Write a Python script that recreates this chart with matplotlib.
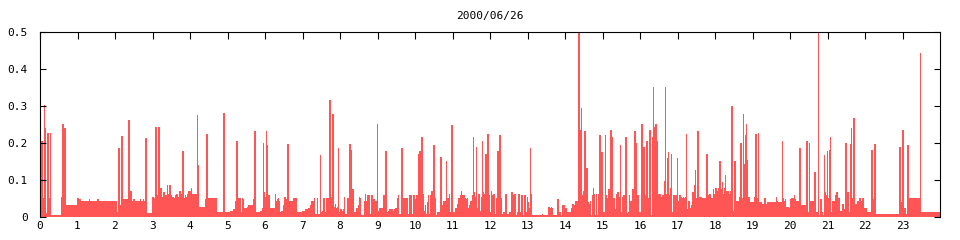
import matplotlib
matplotlib.use("Agg")
import matplotlib.pyplot as plt

title = "2000/06/26"

# start hour of each step and the value held until the next start
hours = [
    0.0, 0.053, 0.08, 0.107, 0.133, 0.16, 0.213, 0.24, 0.267, 0.293,
    0.56, 0.613, 0.64, 0.667, 0.693, 1.013, 1.04, 1.067, 1.307, 1.333,
    1.52, 1.547, 2.027, 2.08, 2.107, 2.133, 2.16, 2.187, 2.213, 2.347,
    2.373, 2.4, 2.427, 2.48, 2.507, 2.667, 2.693, 2.747, 2.773, 2.8,
    2.827, 3.013, 3.04, 3.093, 3.12, 3.147, 3.173, 3.2, 3.227, 3.28,
    3.307, 3.333, 3.36, 3.387, 3.413, 3.44, 3.467, 3.493, 3.52, 3.573,
    3.6, 3.627, 3.68, 3.707, 3.733, 3.76, 3.787, 3.813, 3.84, 3.867,
    3.893, 3.92, 3.947, 3.973, 4.0, 4.027, 4.053, 4.187, 4.213, 4.24,
    4.4, 4.427, 4.453, 4.48, 4.693, 4.72, 4.88, 4.907, 4.933, 5.013,
    5.067, 5.173, 5.2, 5.227, 5.253, 5.28, 5.307, 5.333, 5.36, 5.387,
    5.413, 5.44, 5.52, 5.573, 5.627, 5.68, 5.707, 5.733, 5.76, 5.893,
    5.92, 5.947, 5.973, 6.0, 6.027, 6.053, 6.08, 6.107, 6.267, 6.293,
    6.32, 6.347, 6.373, 6.4, 6.453, 6.48, 6.507, 6.533, 6.56, 6.587,
    6.613, 6.64, 6.667, 6.693, 6.72, 6.773, 6.827, 6.853, 6.96, 6.987,
    7.093, 7.147, 7.173, 7.2, 7.227, 7.253, 7.28, 7.307, 7.333, 7.387,
    7.413, 7.467, 7.493, 7.52, 7.547, 7.573, 7.6, 7.627, 7.653, 7.707,
    7.733, 7.76, 7.787, 7.813, 7.84, 7.867, 7.893, 7.92, 7.947, 7.973,
    8.0, 8.027, 8.08, 8.107, 8.133, 8.213, 8.24, 8.267, 8.293, 8.32,
    8.347, 8.373, 8.427, 8.453, 8.48, 8.507, 8.533, 8.56, 8.587, 8.64,
    8.667, 8.693, 8.72, 8.747, 8.773, 8.8, 8.827, 8.853, 8.88, 8.907,
    8.987, 9.013, 9.04, 9.147, 9.173, 9.2, 9.227, 9.253, 9.28, 9.307,
    9.333, 9.413, 9.44, 9.467, 9.493, 9.52, 9.547, 9.573, 9.653, 9.68,
    9.76, 9.787, 9.813, 9.84, 9.867, 9.893, 9.92, 9.947, 10.0, 10.027,
    10.053, 10.08, 10.107, 10.133, 10.16, 10.187, 10.213, 10.24, 10.267, 10.293,
    10.32, 10.347, 10.373, 10.4, 10.427, 10.453, 10.48, 10.507, 10.533, 10.56,
    10.587, 10.613, 10.667, 10.693, 10.72, 10.747, 10.773, 10.827, 10.853, 10.907,
    10.933, 10.96, 10.987, 11.013, 11.093, 11.12, 11.147, 11.173, 11.2, 11.227,
    11.253, 11.307, 11.333, 11.36, 11.387, 11.413, 11.44, 11.467, 11.493, 11.52,
    11.547, 11.573, 11.6, 11.627, 11.653, 11.68, 11.707, 11.733, 11.76, 11.787,
    11.813, 11.84, 11.893, 11.92, 11.947, 11.973, 12.0, 12.027, 12.053, 12.08,
    12.133, 12.16, 12.187, 12.213, 12.24, 12.267, 12.293, 12.32, 12.347, 12.4,
    12.427, 12.507, 12.56, 12.587, 12.613, 12.64, 12.667, 12.72, 12.773, 12.8,
    12.827, 12.853, 12.88, 12.907, 12.933, 12.96, 12.987, 13.013, 13.04, 13.067,
    13.093, 13.12, 13.387, 13.413, 13.547, 13.573, 13.6, 13.627, 13.653, 13.68,
    13.813, 13.84, 13.867, 13.92, 13.947, 13.973, 14.0, 14.027, 14.16, 14.187,
    14.213, 14.24, 14.267, 14.293, 14.347, 14.373, 14.4, 14.427, 14.453, 14.48,
    14.507, 14.533, 14.56, 14.587, 14.613, 14.64, 14.667, 14.693, 14.72, 14.747,
    14.773, 14.8, 14.827, 14.853, 14.88, 14.907, 14.933, 14.96, 14.987, 15.013,
    15.067, 15.093, 15.12, 15.147, 15.173, 15.2, 15.227, 15.253, 15.28, 15.333,
    15.36, 15.387, 15.413, 15.44, 15.467, 15.493, 15.52, 15.547, 15.573, 15.6,
    15.627, 15.653, 15.68, 15.707, 15.733, 15.76, 15.787, 15.84, 15.867, 15.893,
    15.92, 15.947, 16.0, 16.027, 16.053, 16.08, 16.107, 16.133, 16.16, 16.187,
    16.213, 16.24, 16.267, 16.293, 16.32, 16.347, 16.373, 16.4, 16.427, 16.453,
    16.48, 16.507, 16.533, 16.56, 16.587, 16.613, 16.64, 16.667, 16.693, 16.72,
    16.747, 16.773, 16.8, 16.827, 16.853, 16.88, 16.907, 16.933, 16.987, 17.013,
    17.04, 17.067, 17.093, 17.12, 17.147, 17.173, 17.2, 17.227, 17.253, 17.28,
    17.307, 17.333, 17.36, 17.387, 17.413, 17.44, 17.467, 17.493, 17.52, 17.573,
    17.653, 17.68, 17.707, 17.76, 17.787, 17.813, 17.84, 17.893, 17.92, 17.947,
    17.973, 18.0, 18.027, 18.053, 18.08, 18.107, 18.133, 18.16, 18.187, 18.213,
    18.24, 18.267, 18.293, 18.32, 18.347, 18.373, 18.4, 18.427, 18.453, 18.48,
    18.507, 18.533, 18.56, 18.613, 18.64, 18.667, 18.693, 18.72, 18.747, 18.773,
    18.8, 18.827, 18.853, 18.88, 18.907, 19.04, 19.067, 19.093, 19.12, 19.147,
    19.173, 19.253, 19.333, 19.36, 19.413, 19.627, 19.653, 19.68, 19.787, 19.813,
    19.84, 19.867, 19.893, 19.973, 20.0, 20.027, 20.053, 20.08, 20.107, 20.133,
    20.16, 20.24, 20.267, 20.427, 20.453, 20.48, 20.507, 20.533, 20.64, 20.667,
    20.693, 20.747, 20.773, 20.8, 20.827, 20.853, 20.88, 20.907, 20.933, 20.96,
    20.987, 21.013, 21.04, 21.067, 21.093, 21.12, 21.147, 21.173, 21.2, 21.227,
    21.253, 21.28, 21.307, 21.333, 21.387, 21.413, 21.44, 21.493, 21.52, 21.547,
    21.573, 21.6, 21.627, 21.653, 21.68, 21.707, 21.813, 21.84, 21.867, 21.92,
    21.947, 22.027, 22.16, 22.187, 22.213, 22.24, 22.267, 22.293, 22.933, 22.96,
    22.987, 23.013, 23.04, 23.067, 23.12, 23.147, 23.44, 23.467, 23.493,
]

load = [
    0.0135, 0.205, 0.05, 0.302, 0.24, 0.009, 0.226, 0.05, 0.226, 0.005,
    0.054, 0.251, 0.238, 0.232, 0.030, 0.051, 0.046, 0.043, 0.046, 0.043,
    0.046, 0.043, 0.0135, 0.184, 0.032, 0.030, 0.217, 0.043, 0.046, 0.051,
    0.26, 0.068, 0.043, 0.046, 0.043, 0.046, 0.043, 0.046, 0.043, 0.211,
    0.009, 0.054, 0.049, 0.243, 0.057, 0.049, 0.243, 0.076, 0.054, 0.065,
    0.054, 0.059, 0.057, 0.084, 0.062, 0.084, 0.051, 0.057, 0.054, 0.051,
    0.057, 0.062, 0.054, 0.059, 0.070, 0.062, 0.051, 0.178, 0.051, 0.059,
    0.054, 0.062, 0.054, 0.070, 0.068, 0.076, 0.062, 0.273, 0.138, 0.027,
    0.046, 0.027, 0.222, 0.049, 0.051, 0.011, 0.281, 0.041, 0.011, 0.0135,
    0.016, 0.019, 0.043, 0.022, 0.205, 0.049, 0.046, 0.051, 0.0135, 0.049,
    0.046, 0.022, 0.027, 0.030, 0.032, 0.046, 0.032, 0.230, 0.011, 0.016,
    0.022, 0.200, 0.065, 0.054, 0.230, 0.192, 0.059, 0.024, 0.062, 0.041,
    0.046, 0.051, 0.041, 0.0135, 0.016, 0.030, 0.041, 0.054, 0.046, 0.032,
    0.197, 0.041, 0.043, 0.041, 0.043, 0.049, 0.051, 0.011, 0.0135, 0.016,
    0.019, 0.022, 0.024, 0.030, 0.035, 0.041, 0.043, 0.051, 0.008, 0.049,
    0.008, 0.165, 0.011, 0.016, 0.046, 0.051, 0.0135, 0.008, 0.051, 0.059,
    0.314, 0.054, 0.030, 0.276, 0.027, 0.035, 0.024, 0.027, 0.184, 0.0135,
    0.019, 0.016, 0.019, 0.054, 0.008, 0.049, 0.197, 0.019, 0.181, 0.073,
    0.051, 0.011, 0.016, 0.024, 0.030, 0.054, 0.051, 0.003, 0.005, 0.043,
    0.062, 0.043, 0.059, 0.024, 0.057, 0.008, 0.003, 0.059, 0.046, 0.043,
    0.249, 0.016, 0.022, 0.054, 0.059, 0.178, 0.051, 0.0135, 0.016, 0.0135,
    0.019, 0.016, 0.019, 0.022, 0.024, 0.051, 0.057, 0.008, 0.186, 0.049,
    0.051, 0.011, 0.008, 0.057, 0.046, 0.057, 0.008, 0.059, 0.046, 0.051,
    0.059, 0.168, 0.059, 0.178, 0.214, 0.019, 0.062, 0.016, 0.032, 0.008,
    0.038, 0.059, 0.008, 0.059, 0.008, 0.068, 0.192, 0.057, 0.051, 0.005,
    0.008, 0.011, 0.032, 0.162, 0.032, 0.041, 0.043, 0.149, 0.051, 0.062,
    0.011, 0.246, 0.046, 0.0135, 0.024, 0.035, 0.043, 0.049, 0.059, 0.070,
    0.057, 0.054, 0.051, 0.046, 0.049, 0.022, 0.032, 0.030, 0.041, 0.059,
    0.216, 0.065, 0.054, 0.189, 0.024, 0.062, 0.059, 0.016, 0.054, 0.203,
    0.065, 0.062, 0.170, 0.222, 0.011, 0.057, 0.0135, 0.068, 0.059, 0.062,
    0.008, 0.051, 0.162, 0.176, 0.219, 0.057, 0.051, 0.008, 0.011, 0.062,
    0.008, 0.011, 0.065, 0.035, 0.057, 0.062, 0.005, 0.011, 0.062, 0.011,
    0.005, 0.059, 0.005, 0.008, 0.057, 0.011, 0.054, 0.038, 0.022, 0.186,
    0.062, 0.005, 0.008, 0.005, 0.024, 0.027, 0.024, 0.027, 0.024, 0.005,
    0.046, 0.011, 0.005, 0.030, 0.032, 0.030, 0.024, 0.0135, 0.024, 0.032,
    0.035, 0.032, 0.041, 0.043, 0.059, 0.5, 0.235, 0.292, 0.057, 0.068,
    0.159, 0.232, 0.132, 0.062, 0.038, 0.035, 0.041, 0.005, 0.057, 0.076,
    0.062, 0.005, 0.062, 0.005, 0.062, 0.208, 0.219, 0.173, 0.038, 0.0135,
    0.219, 0.059, 0.049, 0.051, 0.073, 0.235, 0.070, 0.214, 0.051, 0.019,
    0.062, 0.059, 0.065, 0.054, 0.192, 0.0135, 0.054, 0.049, 0.059, 0.216,
    0.116, 0.010, 0.011, 0.057, 0.041, 0.043, 0.073, 0.232, 0.068, 0.200,
    0.057, 0.011, 0.0135, 0.251, 0.249, 0.189, 0.008, 0.057, 0.203, 0.038,
    0.051, 0.235, 0.189, 0.005, 0.214, 0.349, 0.243, 0.251, 0.076, 0.205,
    0.062, 0.057, 0.062, 0.054, 0.022, 0.059, 0.095, 0.351, 0.062, 0.159,
    0.173, 0.059, 0.076, 0.168, 0.011, 0.059, 0.019, 0.059, 0.157, 0.043,
    0.057, 0.038, 0.054, 0.049, 0.054, 0.049, 0.054, 0.222, 0.019, 0.043,
    0.022, 0.024, 0.030, 0.041, 0.065, 0.086, 0.127, 0.051, 0.230, 0.054,
    0.051, 0.049, 0.051, 0.168, 0.068, 0.059, 0.062, 0.051, 0.049, 0.073,
    0.062, 0.076, 0.073, 0.068, 0.076, 0.073, 0.149, 0.073, 0.092, 0.062,
    0.078, 0.111, 0.068, 0.070, 0.068, 0.062, 0.068, 0.065, 0.300, 0.016,
    0.049, 0.149, 0.043, 0.041, 0.054, 0.046, 0.200, 0.049, 0.278, 0.141,
    0.219, 0.251, 0.154, 0.054, 0.038, 0.054, 0.046, 0.224, 0.051, 0.227,
    0.038, 0.035, 0.049, 0.035, 0.038, 0.054, 0.041, 0.038, 0.205, 0.051,
    0.041, 0.046, 0.027, 0.024, 0.046, 0.051, 0.049, 0.051, 0.057, 0.046,
    0.041, 0.184, 0.030, 0.195, 0.205, 0.011, 0.200, 0.041, 0.119, 0.030,
    0.011, 0.5, 0.005, 0.046, 0.005, 0.011, 0.005, 0.165, 0.065, 0.057,
    0.176, 0.049, 0.181, 0.216, 0.011, 0.041, 0.038, 0.041, 0.057, 0.011,
    0.065, 0.051, 0.019, 0.016, 0.0135, 0.035, 0.019, 0.200, 0.065, 0.062,
    0.011, 0.197, 0.238, 0.049, 0.265, 0.035, 0.043, 0.051, 0.043, 0.051,
    0.022, 0.0135, 0.181, 0.011, 0.046, 0.195, 0.035, 0.008, 0.189, 0.038,
    0.195, 0.235, 0.024, 0.008, 0.192, 0.049, 0.051, 0.443, 0.011,
]

hour_ticks = list(range(24))
value_ticks = [0, 0.1, 0.2, 0.3, 0.4, 0.5]
value_labels = ["0", "0.1", "0.2", "0.3", "0.4", "0.5"]

plt.rcParams["font.family"] = ["DejaVu Sans Mono"]

fig = plt.figure(figsize=(9.6, 2.4), dpi=100)
ax = fig.add_axes([40 / 960, 23 / 240, 900 / 960, 185 / 240])

ax.stairs(load, hours + [24], fill=True, color="#ff5555", baseline=0,
          linewidth=0, antialiased=False)

ax.set_xlim(0, 24)
ax.set_ylim(0, 0.5)
ax.set_xticks(hour_ticks)
ax.set_xticklabels([str(h) for h in hour_ticks])
ax.set_yticks(value_ticks)
ax.set_yticklabels(value_labels)

ax.tick_params(axis="x", top=True, bottom=False, direction="in", length=5,
               width=0.8, labelsize=8, pad=3)
ax.tick_params(axis="y", left=True, right=True, direction="in", length=4,
               width=0.8, labelsize=8, pad=9)

for side in ["left", "right", "top"]:
    ax.spines[side].set_linewidth(0.8)
ax.spines["bottom"].set_visible(False)

ax.set_title(title, fontsize=8, pad=9)

fig.savefig("out.png", dpi=100)
